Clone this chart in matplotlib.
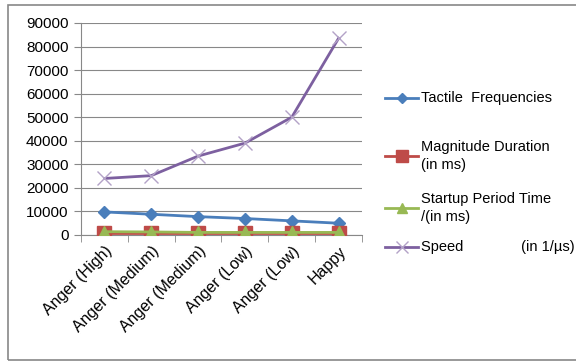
import matplotlib
matplotlib.use("Agg")
import matplotlib.pyplot as plt
from matplotlib.lines import Line2D
from matplotlib.patches import Rectangle
import numpy as np

plt.rcParams['font.family'] = ['Liberation Sans', 'DejaVu Sans']

categories = ['Anger (High)', 'Anger (Medium)', 'Anger (Medium)', 'Anger (Low)', 'Anger (Low)', 'Happy']
tactile = [9800, 8800, 7800, 7000, 6000, 5000]
magnitude = [900, 900, 900, 900, 900, 900]
startup = [1400, 1300, 1100, 1100, 1100, 1100]
speed = [24000, 25200, 33500, 39000, 50000, 83500]
yticks = list(range(0, 90001, 10000))

series = [
    ('Tactile  Frequencies', tactile, '#4A7EBB', 'D', 6, '#4A7EBB'),
    ('Magnitude Duration\n(in ms)', magnitude, '#BE4B48', 's', 10, '#BE4B48'),
    ('Startup Period Time\n/(in ms)', startup, '#98B954', '^', 9, '#98B954'),
    ('Speed              (in 1/\u00b5s)', speed, '#7D60A0', 'x', 10, '#B3A2C7'),
]

fig = plt.figure(figsize=(5.76, 3.62), dpi=100)
ax = fig.add_axes([81/576, 1-235/362, (362-81)/576, (235-23)/362])

x = np.arange(len(categories))
for label, vals, col, mk, ms, mcol in series:
    ax.plot(x, vals, color=col, lw=2, marker=mk, markersize=ms,
            markerfacecolor=mcol, markeredgecolor=mcol, mew=1,
            zorder=3)

ax.set_xlim(-0.5, len(categories) - 0.5)
ax.set_ylim(0, 90000)
ax.set_yticks(yticks)
ax.set_yticklabels([str(v) for v in yticks], fontsize=11)
ax.set_xticks(x)
ax.set_xticklabels(categories, rotation=45, ha='right', va='top',
                   rotation_mode='anchor', fontsize=11.5)
ax.set_xticks(np.arange(-0.5, len(categories)), minor=True)
ax.tick_params(axis='x', which='major', length=0, pad=6)
ax.tick_params(axis='x', which='minor', length=5, color='#888888', direction='out')
ax.tick_params(axis='y', length=5, color='#888888', pad=4)
ax.grid(axis='y', color='#888888', lw=0.8)
ax.set_axisbelow(True)
for s in ['top', 'right']:
    ax.spines[s].set_visible(False)
for s in ['left', 'bottom']:
    ax.spines[s].set_color('#888888')
    ax.spines[s].set_linewidth(0.8)

# legend drawn by hand to match the spacing of the original
legend_y = [98, 156, 208, 247]
for (label, vals, col, mk, ms, mcol), ly in zip(series, legend_y):
    yf = 1 - ly / 362
    fig.add_artist(Line2D([385/576, 418/576], [yf, yf], color=col, lw=2,
                          transform=fig.transFigure))
    fig.add_artist(Line2D([401.5/576], [yf], marker=mk, markersize=ms * 0.8,
                          color=mcol, markerfacecolor=mcol, markeredgecolor=mcol,
                          transform=fig.transFigure))
    fig.text(421/576, yf, label, fontsize=10.5, va='center', ha='left',
             linespacing=1.35)

fig.add_artist(Rectangle((8/576, 1-360/362), 1.1, (360-5)/362, fill=False,
                         edgecolor='#888888', lw=1.2, transform=fig.transFigure))

fig.savefig('out.png', dpi=100)
